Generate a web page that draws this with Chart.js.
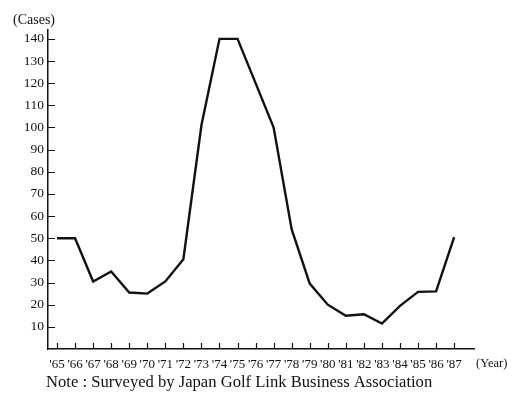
<!DOCTYPE html>
<html>
<head>
<meta charset="utf-8">
<script src="https://cdn.jsdelivr.net/npm/chart.js@4.4.0/dist/chart.umd.min.js"></script>
<style>
html,body{margin:0;padding:0;background:#fff;}
#wrap{width:517px;height:404px;position:relative;}
</style>
</head>
<body>
<div id="wrap"><canvas id="c" width="517" height="404"></canvas></div>
<script>
const years = ["'65","'66","'67","'68","'69","'70","'71","'72","'73","'74","'75","'76","'77","'78","'79","'80","'81","'82","'83","'84","'85","'86","'87"];
const cases = [50,50,30.5,35,25.5,25,30.5,40.5,101,140,140,120,100,54,29.5,20,15,15.7,11.5,19.5,25.8,26,50.5];
const yTickValues = [10,20,30,40,50,60,70,80,90,100,110,120,130,140];
const yAxisTitle = "(Cases)";
const xAxisTitle = "(Year)";
const note = "Note : Surveyed by Japan Golf Link Business Association";

const serif = "'Liberation Serif', 'DejaVu Serif', serif";
const ink = '#111';

const innerTicks = {
  id: 'innerTicks',
  afterDraw(chart) {
    const ctx = chart.ctx;
    const xs = chart.scales.x, ys = chart.scales.y;
    ctx.save();
    ctx.strokeStyle = ink;
    ctx.lineWidth = 1.2;
    ctx.beginPath();
    yTickValues.forEach(v => {
      const y = Math.round(ys.getPixelForValue(v)) + 0.5;
      ctx.moveTo(xs.left, y); ctx.lineTo(xs.left + 7, y);
    });
    years.forEach((_, i) => {
      const x = Math.round(xs.getPixelForValue(i)) + 0.5;
      ctx.moveTo(x, ys.bottom); ctx.lineTo(x, ys.bottom - 6);
    });
    ctx.stroke();
    ctx.fillStyle = ink;
    ctx.font = '14px ' + serif;
    ctx.textBaseline = 'middle';
    ctx.textAlign = 'left';
    ctx.fillText(yAxisTitle, 13, 20);
    ctx.font = '12.5px ' + serif;
    ctx.fillText(xAxisTitle, 476, 364);
    ctx.font = '16.6px ' + serif;
    ctx.fillText(note, 46, 383);
    ctx.restore();
  }
};

new Chart(document.getElementById('c'), {
  type: 'line',
  data: {
    datasets: [{
      data: cases.map((v, i) => ({x: i, y: v})),
      borderColor: ink,
      borderWidth: 2.4,
      pointRadius: 0,
      tension: 0,
      fill: false
    }]
  },
  options: {
    responsive: false,
    animation: false,
    layout: {padding: {top: 30, right: 43, left: 0, bottom: 0}},
    plugins: {legend: {display: false}, tooltip: {enabled: false}},
    scales: {
      x: {
        type: 'linear',
        min: -0.5,
        max: 23.1,
        afterBuildTicks: s => { s.ticks = years.map((_, i) => ({value: i})); },
        afterFit: s => { s.height = 55; },
        grid: {display: false, drawTicks: false},
        border: {display: true, color: ink, width: 1.5},
        ticks: {
          autoSkip: false,
          maxRotation: 0,
          padding: 8,
          color: ink,
          font: {family: serif, size: 13},
          callback: v => years[v]
        }
      },
      y: {
        min: 0,
        max: 144,
        afterBuildTicks: s => { s.ticks = yTickValues.map(v => ({value: v})); },
        afterFit: s => { s.width = 48; },
        grid: {display: false, drawTicks: false},
        border: {display: true, color: ink, width: 1.5},
        ticks: {
          padding: 4,
          color: ink,
          font: {family: serif, size: 13.5}
        }
      }
    }
  },
  plugins: [innerTicks]
});
</script>
</body>
</html>
